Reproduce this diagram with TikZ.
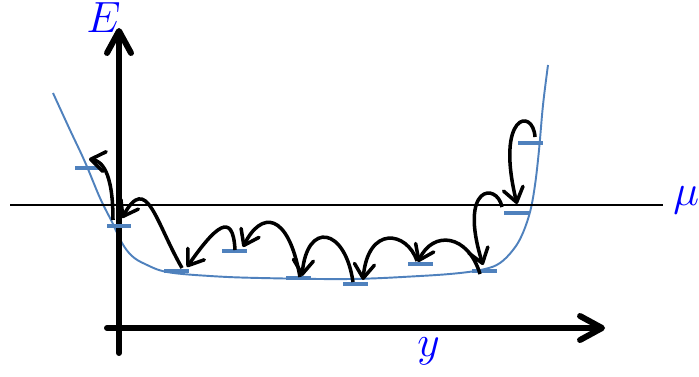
\documentclass[tikz,border=0pt]{standalone}
\usetikzlibrary{arrows.meta,calc}
\definecolor{curveblue}{RGB}{79,129,189}

\begin{document}
\begin{tikzpicture}[
x=0.02cm, y=0.02cm,
axis/.style={line width=3.4pt, line cap=round, -{Straight Barb[length=4.4mm, width=4.8mm, round]}},
hop/.style={line width=2pt, -{Straight Barb[length=2.8mm, width=4mm, round]}},
level/.style={fill=curveblue, inner sep=0pt, minimum width=0.5cm, minimum height=0.07cm},
lbl/.style={text=blue, inner sep=0pt, font=\fontsize{24}{28}\selectfont}
]
\useasboundingbox (0,0) rectangle (699,376);

% potential profile
\draw[curveblue, line width=1.1pt] plot[smooth, tension=0.6] coordinates {(53,283) (70,246) (85,214) (100,178) (112,154) (122,133) (132,120) (145,112) (167,104) (210,100) (260,98) (350,97) (420,100) (460,103) (485,107) (500,113) (513,126) (522,141) (530,164) (535,191) (539,226) (543,271) (548,311)};

% chemical potential
\coordinate (mu0) at (10,171);
\coordinate (mu1) at (663,171);
\draw[line width=1.2pt] (mu0) -- (mu1);

% axes
\coordinate (yaxis0) at (119,23);
\coordinate (yaxis1) at (119,348);
\coordinate (xaxis0) at (107,48);
\coordinate (xaxis1) at (605,48);
\draw[axis] (yaxis0) -- (yaxis1);
\draw[axis] (xaxis0) -- (xaxis1);

\node[lbl, anchor=base west] (elabel) at (86,343) {$E$};
\node[lbl, anchor=base west] (mulabel) at (673,171) {$\mu$};
\node[lbl, anchor=base west] (ylabel) at (417,20) {$y$};

% levels
\node[level] (l1) at (87,208) {};
\node[level] (l2) at (119,150) {};
\node[level] (l3) at (176,105) {};
\node[level] (l4) at (234,125) {};
\node[level] (l5) at (298,98) {};
\node[level] (l6) at (355,92) {};
\node[level] (l7) at (420,112) {};
\node[level] (l8) at (484,105) {};
\node[level] (l9) at (516,163) {};
\node[level] (l10) at (530,233) {};

% hops
\draw[hop] ($(l2)+(-6,6)$) .. controls +(0,50) and +(12,-2) .. ($(l1)+(2,9)$);
\draw[hop] ($(l3)+(6,3)$) .. controls +(-27,47) and +(25,45) .. ($(l2)+(3,8)$);
\draw[hop] ($(l4)+(1,1)$) .. controls +(-2,40) and +(28,40) .. ($(l3)+(11,4)$);
\draw[hop] ($(l5)+(2,1)$) .. controls +(-12,66) and +(18,36) .. ($(l4)+(9,4)$);
\draw[hop] ($(l6)+(-2,2)$) .. controls +(-8,55) and +(5,55) .. ($(l5)+(4,2)$);
\draw[hop] ($(l7)+(-3,3)$) .. controls +(-10,30) and +(5,55) .. ($(l6)+(8,4)$);
\draw[hop] ($(l8)+(-4,-3)$) .. controls +(-12,40) and +(15,32) .. ($(l7)+(-2,2)$);
\draw[hop] ($(l9)+(-14,6)$) .. controls +(-5,25) and +(-25,80) .. ($(l8)+(-1,6)$);
\draw[hop] ($(l10)+(5,6)$) .. controls +(-2,30) and +(-22,90) .. ($(l9)+(1,9)$);

\end{tikzpicture}
\end{document}
